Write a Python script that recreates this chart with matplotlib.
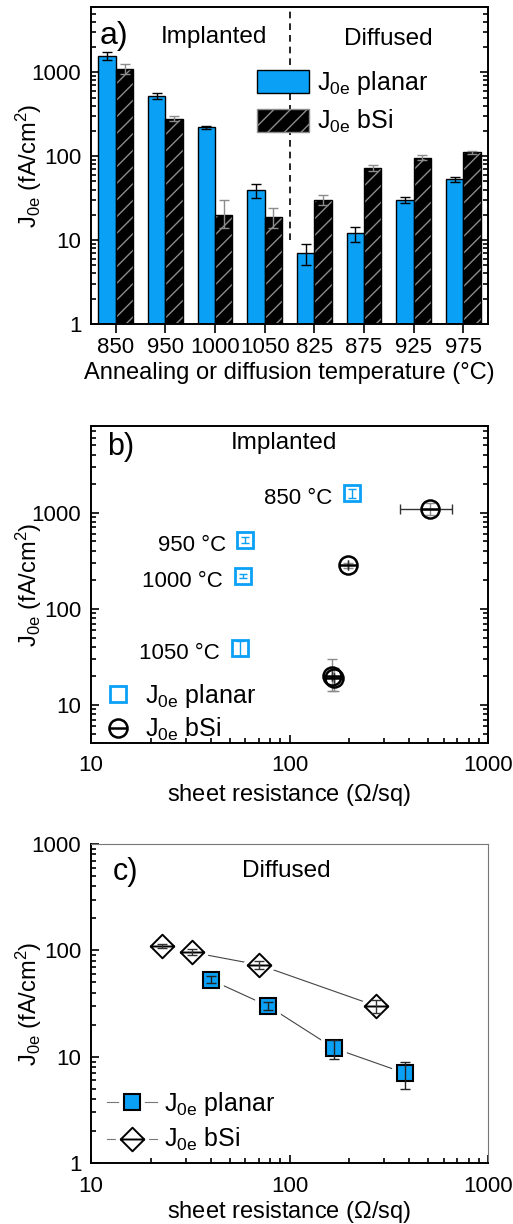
import numpy as np
import matplotlib.pyplot as plt
from matplotlib.lines import Line2D
from matplotlib.path import Path
from matplotlib.legend_handler import HandlerTuple
from matplotlib.ticker import LogLocator, NullFormatter

plt.rcParams['font.family'] = ['Liberation Sans', 'DejaVu Sans']
plt.rcParams['font.size'] = 16
plt.rcParams['mathtext.fontset'] = 'custom'
plt.rcParams['mathtext.rm'] = 'Liberation Sans'
plt.rcParams['mathtext.it'] = 'Liberation Sans:italic'
plt.rcParams['mathtext.default'] = 'regular'
plt.rcParams['hatch.linewidth'] = 1.0

BLUE = '#0aa0f5'
GRAY = '#8c8c8c'

# %% data
temps = ['850', '950', '1000', '1050', '825', '875', '925', '975']
j0_planar = [1580, 520, 220, 39, 7, 12, 30, 53]
j0_planar_err = [170, 40, 10, 7, 2, 2.5, 2.5, 4]
j0_bsi = [1100, 281, 20, 19, 30, 73, 96, 111]
j0_bsi_err_lo = [150, 18, 6, 5, 4, 6, 6, 5]
j0_bsi_err_hi = [150, 18, 10, 5, 4, 6, 6, 5]

# implanted: 850, 950, 1000, 1050 C
impl_labels = ['850 °C', '950 °C', '1000 °C', '1050 °C']
impl_rsh_planar = [206, 60, 58, 56]
impl_rsh_bsi = [511, 196, 163, 168]
impl_rsh_bsi_err = [150, 0, 0, 0]
impl_j0_planar = j0_planar[:4]
impl_j0_planar_err = j0_planar_err[:4]
impl_j0_bsi = j0_bsi[:4]
impl_j0_bsi_err = [j0_bsi_err_lo[:4], j0_bsi_err_hi[:4]]

# diffused: 825, 875, 925, 975 C
diff_rsh_planar = [382, 168, 78, 40]
diff_rsh_bsi = [273, 70.5, 32.3, 22.8]
diff_j0_planar = j0_planar[4:]
diff_j0_planar_err = j0_planar_err[4:]
diff_j0_bsi = j0_bsi[4:]
diff_j0_bsi_err = j0_bsi_err_lo[4:]

YLABEL = r'J$_{0e}$ (fA/cm$^2$)'
XLABEL_RSH = 'sheet resistance ($\\Omega$/sq)'
LEG_LABELS = [r'J$_{0e}$ planar', r'J$_{0e}$ bSi']

# markers with a horizontal bar through the middle
hbar = Path([(-1, 0), (1, 0)], [Path.MOVETO, Path.LINETO])
circle_bar = Path.make_compound_path(Path.unit_circle(), hbar)
diamond = Path([(0, 1), (1, 0), (0, -1), (-1, 0), (0, 1)],
               [Path.MOVETO, Path.LINETO, Path.LINETO, Path.LINETO, Path.CLOSEPOLY])
diamond_bar = Path.make_compound_path(diamond, hbar)

fig = plt.figure(figsize=(5.13, 12.24), dpi=100)


def style_log_y(ax, right=True):
    ax.yaxis.set_major_locator(LogLocator(base=10))
    ax.yaxis.set_minor_locator(LogLocator(base=10, subs=np.arange(2, 10)))
    ax.yaxis.set_minor_formatter(NullFormatter())
    ax.yaxis.set_major_formatter(plt.FuncFormatter(lambda v, p: '%g' % v))
    ax.tick_params(axis='y', which='both', direction='in', right=right, width=1.2)
    ax.tick_params(axis='y', which='major', length=6, pad=7, labelsize=16)
    ax.tick_params(axis='y', which='minor', length=3.5)
    ax.set_ylabel(YLABEL, fontsize=17)
    ax.yaxis.set_label_coords(-0.118, 0.5)


def style_log_x(ax):
    ax.xaxis.set_major_locator(LogLocator(base=10))
    ax.xaxis.set_minor_locator(LogLocator(base=10, subs=np.arange(2, 10)))
    ax.xaxis.set_minor_formatter(NullFormatter())
    ax.xaxis.set_major_formatter(plt.FuncFormatter(lambda v, p: '%g' % v))
    ax.tick_params(axis='x', which='both', direction='in', width=1.2)
    ax.tick_params(axis='x', which='major', length=6, pad=9, labelsize=16)
    ax.tick_params(axis='x', which='minor', length=3.5)


# %% panel a: bars
ax = fig.add_axes([0.1774, 0.7353, 0.7739, 0.2590])
x = np.arange(len(temps))
w = 0.35
ax.bar(x - w / 2, j0_planar, w, color=BLUE, edgecolor='black', linewidth=1.0, zorder=2)
ax.bar(x + w / 2, j0_bsi, w, color='black', edgecolor=GRAY, hatch='//', linewidth=0, zorder=2)
ax.bar(x + w / 2, j0_bsi, w, fill=False, edgecolor='black', linewidth=1.0, zorder=2)
ax.errorbar(x - w / 2, j0_planar, yerr=j0_planar_err, fmt='none', ecolor='black',
            elinewidth=1, capsize=3.5, capthick=1, zorder=3)
ax.errorbar(x + w / 2, j0_bsi, yerr=[j0_bsi_err_lo, j0_bsi_err_hi], fmt='none', ecolor=GRAY,
            elinewidth=1, capsize=3.5, capthick=1, zorder=3)
ax.set_yscale('log')
ax.set_ylim(1, 6000)
ax.set_xlim(-0.5, len(temps) - 0.5)
ax.vlines(3.5, 10, 6000, colors='black', linestyles=(0, (4, 3)), linewidth=1.2, zorder=1)
style_log_y(ax)
ax.set_xticks(x)
ax.set_xticklabels(temps)
ax.tick_params(axis='x', direction='out', length=6.5, width=1.2, pad=3, labelsize=16)
ax.set_xlabel('Annealing or diffusion temperature (°C)', labelpad=3, fontsize=17)
for s in ax.spines.values():
    s.set_linewidth(1.4)
ax.text(0.022, 0.91, 'a)', transform=ax.transAxes, fontsize=23, va='center', ha='left')
ax.text(0.31, 0.905, 'Implanted', transform=ax.transAxes, fontsize=17.5, va='center', ha='center')
ax.text(0.75, 0.90, 'Diffused', transform=ax.transAxes, fontsize=17.5, va='center', ha='center')
h1 = plt.Rectangle((0, 0), 1, 1, facecolor=BLUE, edgecolor='black', linewidth=1.0)
h2 = plt.Rectangle((0, 0), 1, 1, facecolor='black', edgecolor=GRAY, hatch='//', linewidth=1.0)
ax.legend([h1, h2], LEG_LABELS, loc='upper left',
          bbox_to_anchor=(0.418, 0.805), frameon=False, handlelength=2.1, handleheight=1.05,
          handletextpad=0.3, labelspacing=0.45, borderpad=0, borderaxespad=0, fontsize=18)

# %% panel b: implanted
ax = fig.add_axes([0.1774, 0.3930, 0.7739, 0.2592])
ax.set_xscale('log')
ax.set_yscale('log')
ax.set_xlim(10, 1000)
ax.set_ylim(4, 8000)
ax.plot(impl_rsh_planar, impl_j0_planar, 's', ms=12, mfc='none', mec=BLUE, mew=2, zorder=3)
ax.errorbar(impl_rsh_planar, impl_j0_planar, yerr=impl_j0_planar_err, fmt='none', ecolor=BLUE,
            elinewidth=1, capsize=3, capthick=1, zorder=3)
ax.errorbar(impl_rsh_bsi, impl_j0_bsi, yerr=impl_j0_bsi_err, fmt='none',
            ecolor=GRAY, elinewidth=1, capsize=3.5, capthick=1, zorder=2)
ax.errorbar(impl_rsh_bsi, impl_j0_bsi, xerr=impl_rsh_bsi_err, fmt='none',
            ecolor='#333333', elinewidth=1, capsize=3.5, capthick=1, zorder=2)
ax.plot(impl_rsh_bsi, impl_j0_bsi, ls='none', marker=circle_bar, ms=13, mfc='none',
        mec='black', mew=1.8, zorder=4)
for lab, xs, ys in zip(impl_labels, impl_rsh_planar, impl_j0_planar):
    ax.annotate(lab, (xs, ys), xytext=(-14, -4), textcoords='offset points',
                ha='right', va='center', fontsize=16)
style_log_y(ax)
style_log_x(ax)
ax.set_xlabel(XLABEL_RSH, labelpad=4, fontsize=17)
for s in ax.spines.values():
    s.set_linewidth(1.4)
ax.text(0.04, 0.934, 'b)', transform=ax.transAxes, fontsize=22, va='center', ha='left')
ax.text(0.487, 0.944, 'Implanted', transform=ax.transAxes, fontsize=17.5, va='center', ha='center')
hp = Line2D([], [], ls='none', marker='s', ms=12, mfc='none', mec=BLUE, mew=2)
hc = Line2D([], [], ls='none', marker=circle_bar, ms=13, mfc='none', mec='black', mew=1.8)
ax.legend([hp, hc], LEG_LABELS, loc='lower left',
          bbox_to_anchor=(0.03, 0.0), frameon=False, handlelength=1.2,
          handletextpad=0.5, labelspacing=0.25, borderpad=0, borderaxespad=0, fontsize=18)

# %% panel c: diffused
ax = fig.add_axes([0.1774, 0.0498, 0.7739, 0.2606])
ax.set_xscale('log')
ax.set_yscale('log')
ax.set_xlim(10, 1000)
ax.set_ylim(1, 1000)
ax.plot(diff_rsh_planar, diff_j0_planar, '-', color='#444444', lw=0.8, zorder=1)
ax.plot(diff_rsh_bsi, diff_j0_bsi, '-', color='#444444', lw=0.8, zorder=1)
ax.plot(diff_rsh_planar, diff_j0_planar, 's', ls='none', ms=12, mfc='white', mec='white', mew=7, zorder=2)
ax.plot(diff_rsh_bsi, diff_j0_bsi, ls='none', marker=diamond, ms=17, mfc='white', mec='white', mew=7, zorder=2)
ax.plot(diff_rsh_planar, diff_j0_planar, 's', ls='none', ms=12, mfc=BLUE, mec='black', mew=1.5, zorder=3)
ax.plot(diff_rsh_bsi, diff_j0_bsi, ls='none', marker=diamond_bar, ms=17, mfc='white', mec='black',
        mew=1.4, zorder=3)
ax.errorbar(diff_rsh_planar, diff_j0_planar, yerr=diff_j0_planar_err, fmt='none', ecolor='#222222',
            elinewidth=1, capsize=3.5, capthick=1, zorder=4)
ax.errorbar(diff_rsh_bsi, diff_j0_bsi, yerr=diff_j0_bsi_err, fmt='none', ecolor='#333333',
            elinewidth=1, capsize=3.5, capthick=1, zorder=4)
style_log_y(ax, right=False)
style_log_x(ax)
ax.set_xlabel(XLABEL_RSH, labelpad=2, fontsize=17)
for side in ['left', 'bottom']:
    ax.spines[side].set_linewidth(1.4)
for side in ['right', 'top']:
    ax.spines[side].set_linewidth(0.8)
    ax.spines[side].set_color('#777777')
ax.text(0.055, 0.913, 'c)', transform=ax.transAxes, fontsize=22, va='center', ha='left')
ax.text(0.492, 0.916, 'Diffused', transform=ax.transAxes, fontsize=17.5, va='center', ha='center')
ln = Line2D([], [], color='#777777', lw=0.8)
sp_halo = Line2D([], [], ls='none', marker='s', ms=12, mfc='white', mec='white', mew=7)
sp = Line2D([], [], ls='none', marker='s', ms=12, mfc=BLUE, mec='black', mew=1.5)
dd_halo = Line2D([], [], ls='none', marker=diamond, ms=17, mfc='white', mec='white', mew=7)
dd = Line2D([], [], ls='none', marker=diamond_bar, ms=17, mfc='white', mec='black', mew=1.4)
ax.legend([(ln, sp_halo, sp), (ln, dd_halo, dd)], LEG_LABELS,
          loc='lower left', bbox_to_anchor=(0.04, 0.03), frameon=False, handlelength=2.0,
          handletextpad=0.3, labelspacing=0.35, borderpad=0, borderaxespad=0, fontsize=18,
          handler_map={tuple: HandlerTuple(ndivide=1)})

fig.savefig('out.png', dpi=100)
